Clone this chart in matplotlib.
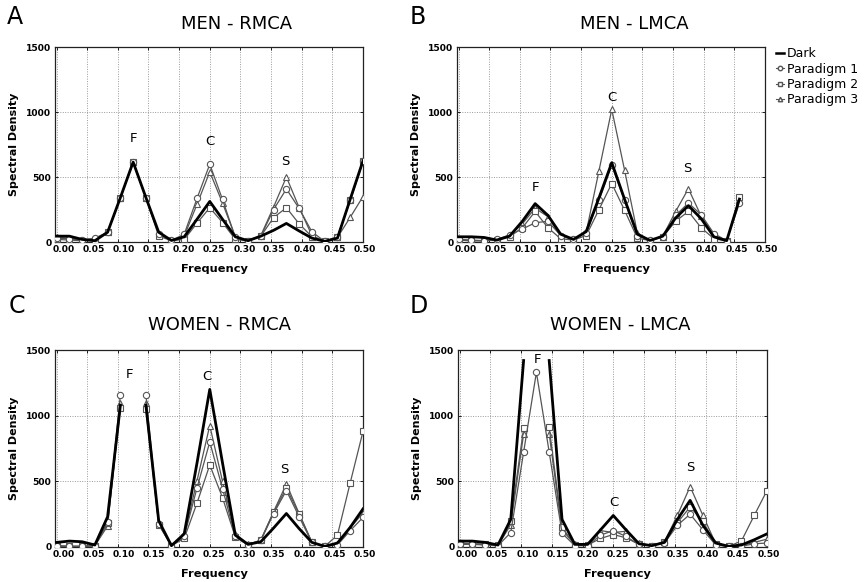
import numpy as np
import matplotlib
matplotlib.use("Agg")
import matplotlib.pyplot as plt
from matplotlib.lines import Line2D
from matplotlib.transforms import ScaledTranslation

nan = np.nan

FREQ = [0.0, 0.0208, 0.0417, 0.0625, 0.0833, 0.1042, 0.125, 0.1458, 0.1667,
        0.1875, 0.2083, 0.2292, 0.25, 0.2708, 0.2917, 0.3125, 0.3333, 0.3542,
        0.375, 0.3958, 0.4167, 0.4375, 0.4583, 0.4792, 0.5]

SERIES = ["Dark", "Paradigm 1", "Paradigm 2", "Paradigm 3"]

# Panel A: MEN - RMCA
A_dark = [45, 45, 20, 10, 75, 342, 615, 342, 75, 12, 40, 175, 312, 175, 40, 10, 45, 90, 143, 85, 30, 5, 30, 330, 625]
A_p1 = [30, 25, 15, 30, 75, 342, 615, 342, 60, 12, 60, 335, 598, 327, 35, 10, 45, 250, 408, 258, 78, 5, 35, 320, 620]
A_p2 = [20, 15, 10, 12, 75, 342, 615, 342, 45, 10, 20, 145, 264, 150, 20, 8, 45, 188, 264, 140, 40, 5, 40, 320, 620]
A_p3 = [35, 30, 15, 12, 75, 342, 615, 342, 65, 12, 45, 290, 540, 300, 40, 10, 50, 270, 500, 265, 50, 5, 35, 190, 350]

# Panel B: MEN - LMCA
B_dark = [40, 40, 35, 15, 45, 160, 295, 205, 60, 20, 80, 340, 610, 330, 60, 12, 45, 185, 280, 180, 40, 10, 330, nan, nan]
B_p1 = [20, 15, 10, 20, 55, 100, 148, 160, 50, 20, 70, 320, 590, 320, 50, 12, 40, 205, 300, 210, 65, 10, 300, nan, nan]
B_p2 = [15, 10, 10, 15, 40, 110, 235, 110, 25, 15, 50, 250, 450, 245, 30, 10, 40, 160, 235, 110, 25, 8, 345, nan, nan]
B_p3 = [15, 10, 10, 15, 50, 140, 260, 195, 45, 20, 75, 550, 1020, 555, 70, 12, 45, 235, 410, 200, 45, 10, 325, nan, nan]

# Panel C: WOMEN - RMCA
C_dark = [35, 45, 40, 15, 230, 1080, nan, 1080, 200, 10, 100, 640, 1200, 640, 90, 20, 40, 145, 255, 140, 35, 5, 30, 150, 290]
C_p1 = [5, 5, 5, 10, 190, 1160, nan, 1160, 175, 10, 80, 450, 800, 445, 80, 15, 50, 255, 430, 230, 35, 5, 15, 125, 225]
C_p2 = [10, 5, 5, 10, 180, 1055, nan, 1050, 170, 10, 65, 335, 625, 375, 75, 15, 55, 265, 450, 250, 35, 5, 90, 490, 880]
C_p3 = [8, 5, 5, 10, 160, 1100, nan, 1100, 175, 10, 85, 505, 925, 500, 100, 20, 50, 270, 480, 255, 35, 5, 20, 145, 260]

# Panel D: WOMEN - LMCA
D_dark = [45, 45, 35, 15, 210, 1420, nan, 1420, 210, 20, 20, 130, 240, 130, 25, 10, 35, 210, 355, 165, 30, 5, 15, 55, 100]
D_p1 = [20, 20, 15, 10, 110, 722, 1330, 722, 105, 10, 10, 90, 125, 80, 20, 10, 30, 165, 250, 130, 15, 5, 5, 25, 30]
D_p2 = [30, 25, 20, 15, 200, 903, nan, 910, 150, 15, 15, 65, 95, 70, 20, 10, 35, 185, 305, 195, 20, 5, 45, 240, 430]
D_p3 = [25, 25, 20, 10, 170, 860, nan, 860, 130, 20, 10, 125, 110, 120, 30, 10, 40, 240, 460, 240, 25, 5, 10, 35, 60]

TITLES = ["MEN - RMCA", "MEN - LMCA", "WOMEN - RMCA", "WOMEN - LMCA"]
LETTERS = ["A", "B", "C", "D"]
XTICKS = [0.0, 0.05, 0.10, 0.15, 0.20, 0.25, 0.30, 0.35, 0.40, 0.45, 0.50]
XTICKLABELS = ["0.00", "0.05", "0.10", "0.15", "0.20", "0.25", "0.30", "0.35", "0.40", "0.45", "0.50"]
YTICKS = [0, 500, 1000, 1500]

# peak labels (text, x, y) per panel
PEAKS = [
    [("F", 0.125, 800), ("C", 0.25, 770), ("S", 0.373, 620)],
    [("F", 0.125, 423), ("C", 0.25, 1110), ("S", 0.373, 567)],
    [("F", 0.119, 1310), ("C", 0.246, 1297), ("S", 0.371, 593)],
    [("F", 0.127, 1431), ("C", 0.251, 340), ("S", 0.375, 607)],
]

PANELS = [
    (A_dark, A_p1, A_p2, A_p3),
    (B_dark, B_p1, B_p2, B_p3),
    (C_dark, C_p1, C_p2, C_p3),
    (D_dark, D_p1, D_p2, D_p3),
]

W, H = 864, 582
fig = plt.figure(figsize=(W / 100, H / 100), dpi=100)
plt.rcParams['font.family'] = ['DejaVu Sans']

# axes boxes in pixels: left, top, right, bottom
BOXES = [(55, 47, 363, 242), (457, 47, 765, 242), (55, 350, 363, 547), (458, 350, 767, 547)]
TITLE_POS = [(237, 24), (634, 24), (219, 325), (620, 325)]
LETTER_POS = [(7, 17), (410, 17), (9, 306), (410, 306)]

grey = "#555555"
styles = [
    dict(color="black", lw=2.0, marker=None, zorder=5),
    dict(color=grey, lw=0.9, marker="o", ms=4.5, mfc="white", mec=grey, mew=0.8, zorder=4),
    dict(color=grey, lw=0.9, marker="s", ms=4.2, mfc="white", mec=grey, mew=0.8, zorder=4),
    dict(color=grey, lw=0.9, marker="^", ms=4.5, mfc="white", mec=grey, mew=0.8, zorder=4),
]

for i in range(4):
    l, t, r, b = BOXES[i]
    ax = fig.add_axes([l / W, 1 - b / H, (r - l) / W, (b - t) / H])
    # draw paradigms first, dark on top
    for j in [3, 2, 1, 0]:
        ax.plot(FREQ, PANELS[i][j], **styles[j])
    ax.set_xlim(-0.0025, 0.5)
    ax.set_ylim(0, 1500)
    ax.set_xticks(XTICKS)
    ax.set_xticklabels(XTICKLABELS)
    ax.set_yticks(YTICKS)
    ax.set_yticklabels([str(v) for v in YTICKS])
    ax.grid(True, linestyle=(0, (1, 1.5)), color="#9a9a9a", lw=0.7)
    ax.tick_params(axis="both", direction="in", length=2.5, width=0.6, pad=2.5,
                   labelsize=6.6, top=True, right=True)
    for lab in ax.get_xticklabels() + ax.get_yticklabels():
        lab.set_fontweight("bold")
    # the reference's tick labels sit slightly right of their grid lines
    for v, lab in zip(XTICKS, ax.get_xticklabels()):
        dx = (7.5 - 12 * v) / 100
        lab.set_transform(lab.get_transform() + ScaledTranslation(dx, 0, fig.dpi_scale_trans))
    for sp in ax.spines.values():
        sp.set_linewidth(0.9)
        sp.set_color("#222222")
    ax.set_xlabel("Frequency", fontsize=8.2, fontweight="bold")
    ax.set_ylabel("Spectral Density", fontsize=8.0, fontweight="bold")
    ax.xaxis.set_label_coords(0.5 + 5 / (r - l), -22 / (b - t))
    ax.yaxis.set_label_coords(-36 / (r - l), 0.5)
    for txt, px, py in PEAKS[i]:
        ax.text(px, py, txt, ha="center", va="center", fontsize=9.5, zorder=6)
    tx, ty = TITLE_POS[i]
    fig.text(tx / W, 1 - ty / H, TITLES[i], ha="center", va="center", fontsize=13)
    lx, ly = LETTER_POS[i]
    fig.text(lx / W, 1 - ly / H, LETTERS[i], ha="left", va="center", fontsize=17)

handles = [
    Line2D([], [], color="black", lw=1.8),
    Line2D([], [], color=grey, lw=0.8, marker="o", ms=3.2, mfc="white", mec=grey),
    Line2D([], [], color=grey, lw=0.8, marker="s", ms=3.0, mfc="white", mec=grey),
    Line2D([], [], color=grey, lw=0.8, marker="^", ms=3.2, mfc="white", mec=grey),
]
fig.legend(handles, SERIES, loc="upper left", bbox_to_anchor=(776 / W, 1 - 47 / H),
           frameon=False, fontsize=9, handlelength=0.6, handletextpad=0.3,
           labelspacing=0.2, borderaxespad=0, borderpad=0)

fig.savefig("out.png", dpi=100)
